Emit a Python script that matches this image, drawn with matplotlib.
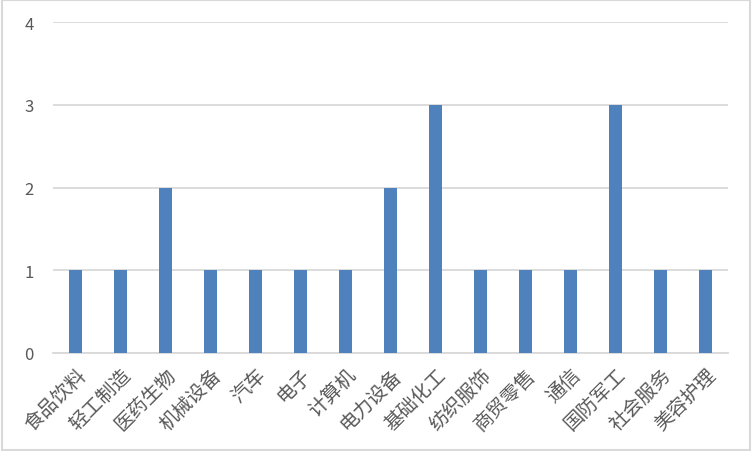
import matplotlib.pyplot as plt
from matplotlib.patches import Rectangle

plt.rcParams['font.family'] = ['Noto Sans CJK SC', 'DejaVu Sans']

# 行业和数量
industries = ["食品饮料", "轻工制造", "医药生物", "机械设备", "汽车", "电子", "计算机",
              "电力设备", "基础化工", "纺织服饰", "商贸零售", "通信", "国防军工",
              "社会服务", "美容护理"]
counts = [1, 1, 2, 1, 1, 1, 1, 2, 3, 1, 1, 1, 3, 1, 1]
yticks = [0, 1, 2, 3, 4]

fig = plt.figure(figsize=(7.52, 4.52), dpi=100)
ax = fig.add_axes([53 / 752, 1 - 354 / 452, 675 / 752, 331 / 452])

x = range(len(industries))
ax.bar(x, counts, width=0.31, color="#4F81BD", zorder=3)

ax.set_xlim(-0.5, len(industries) - 0.5)
ax.set_ylim(0, 4)
ax.set_yticks(yticks)
ax.set_xticks(list(x))
ax.set_xticklabels(industries, rotation=45, ha="right", va="top",
                   rotation_mode="anchor", fontsize=14, color="#595959")
ax.tick_params(axis="y", length=0, pad=14, labelsize=12, labelcolor="#595959")
ax.tick_params(axis="x", length=0, pad=8)
ax.grid(axis="y", color="#D9D9D9", linewidth=1.3, zorder=0)
for s in ["top", "right", "left"]:
    ax.spines[s].set_visible(False)
ax.spines["bottom"].set_color("#D9D9D9")
ax.spines["bottom"].set_linewidth(1.3)

# 外边框
fig.patches.append(Rectangle((0.002, 0.003), 0.996, 0.994, transform=fig.transFigure,
                             fill=False, edgecolor="#D9D9D9", linewidth=1.5))

fig.savefig("out.png", dpi=100)
